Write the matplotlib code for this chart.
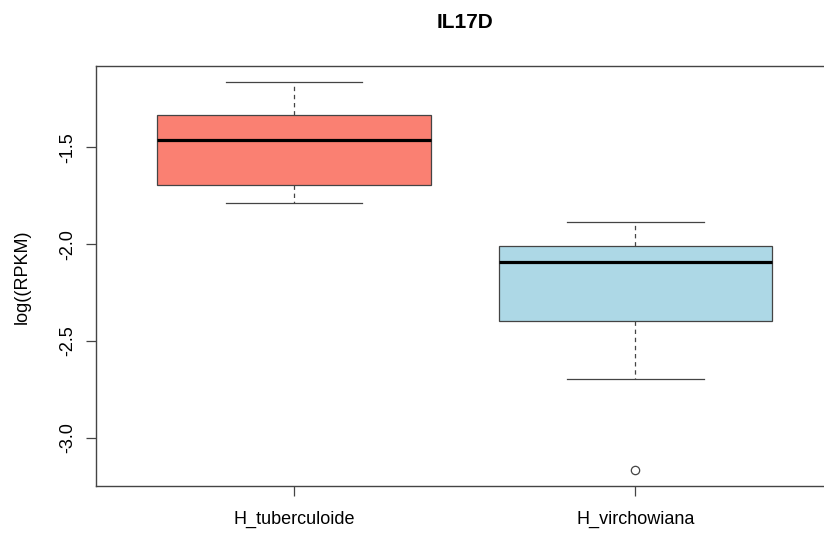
import matplotlib.pyplot as plt

plt.rcParams["font.family"] = ["Liberation Sans", "DejaVu Sans"]

# box statistics per group, log(RPKM)
groups = ["H_tuberculoide", "H_virchowiana"]
whisker_low = [-1.789, -2.697]
q1 = [-1.696, -2.398]
medians = [-1.464, -2.091]
q3 = [-1.331, -2.009]
whisker_high = [-1.163, -1.885]
outliers = [[], [-3.169]]
box_colors = ["#FA8072", "#ADD8E6"]

yticks = [-3.0, -2.5, -2.0, -1.5]

stats = []
for i, name in enumerate(groups):
    stats.append(
        {
            "label": name,
            "whislo": whisker_low[i],
            "q1": q1[i],
            "med": medians[i],
            "q3": q3[i],
            "whishi": whisker_high[i],
            "fliers": outliers[i],
        }
    )

fig = plt.figure(figsize=(8.24, 5.34), dpi=100)
ax = fig.add_axes([0.1165, 0.0899, 0.895, 0.7856])

edge = "#444444"
bp = ax.bxp(
    stats,
    positions=[1, 2],
    widths=0.8,
    patch_artist=True,
    showfliers=True,
    boxprops=dict(edgecolor=edge, linewidth=0.9),
    medianprops=dict(color="black", linewidth=2.3, solid_capstyle="butt"),
    whiskerprops=dict(color=edge, linewidth=0.9, linestyle=(0, (3.5, 3))),
    capprops=dict(color=edge, linewidth=0.9),
    capwidths=0.4,
    flierprops=dict(marker="o", markersize=6, markerfacecolor="none",
                    markeredgecolor=edge, markeredgewidth=0.9),
)
for patch, c in zip(bp["boxes"], box_colors):
    patch.set_facecolor(c)

# R-style 4% padding around the data range
lo = min(min(whisker_low), min(min(o) for o in outliers if o))
hi = max(whisker_high)
pad = (hi - lo) * 0.04
ax.set_ylim(lo - pad, hi + pad)
ax.set_xlim(0.5 - 0.08, 2.5 + 0.08)

ax.set_yticks(yticks)
ax.set_yticklabels([f"{t:.1f}" for t in yticks], rotation=90, va="center")
ax.set_xticks([1, 2])
ax.set_xticklabels(groups)
ax.tick_params(axis="both", direction="out", length=7, width=0.9,
               color=edge, labelsize=13)
ax.tick_params(axis="y", pad=7)
ax.tick_params(axis="x", pad=11)
for s in ax.spines.values():
    s.set_color(edge)
    s.set_linewidth(1.0)

fig.text(22 / 824, 1 - 277 / 534, "log((RPKM)", rotation=90,
         ha="center", va="center", fontsize=13)
fig.text(464.5 / 824, 1 - 22 / 534, "IL17D", ha="center", va="center",
         fontsize=15, fontweight="bold")

fig.savefig("out.png", dpi=100)
